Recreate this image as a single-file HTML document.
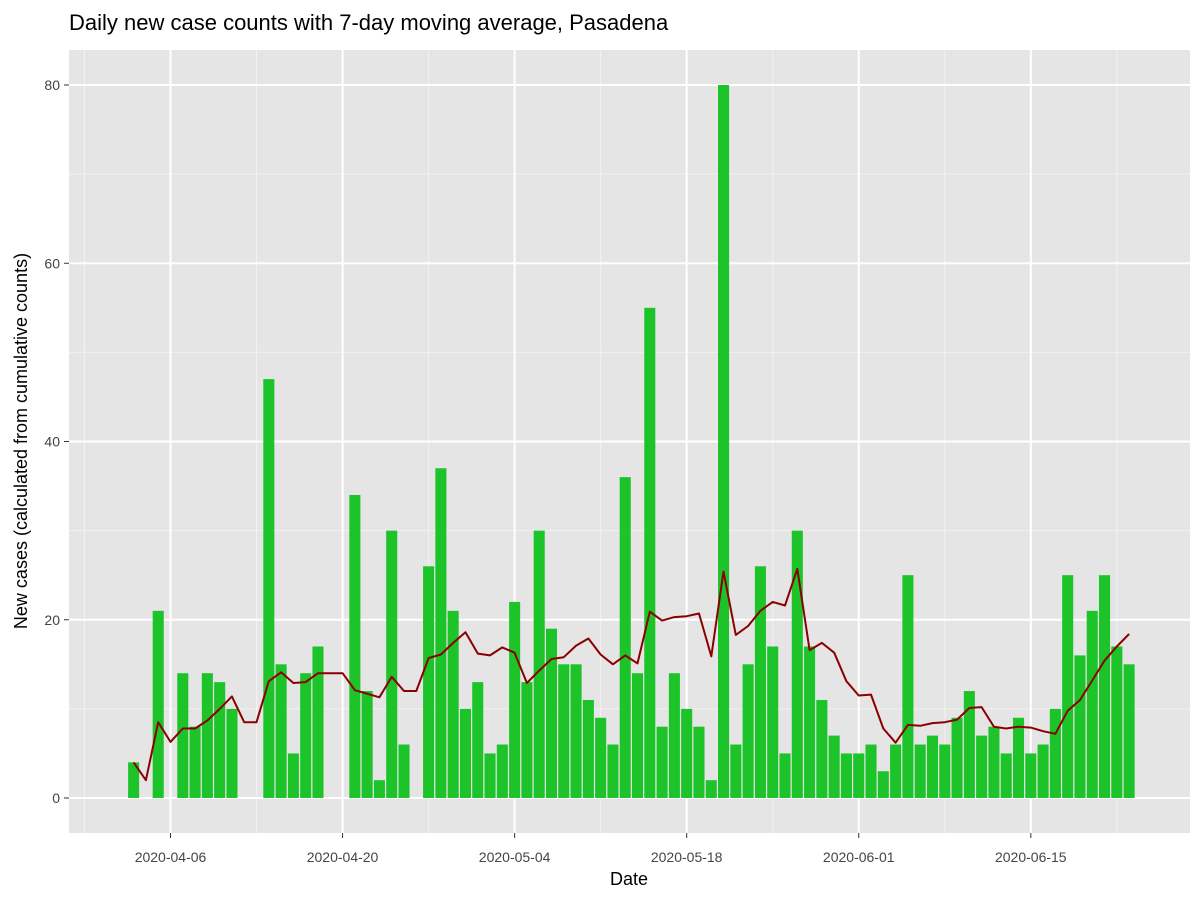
<!DOCTYPE html>
<html><head><meta charset="utf-8"><style>
body{margin:0;background:#fff;}
svg{display:block;font-family:"Liberation Sans",Arial,sans-serif;}
</style></head><body>
<svg id="chart" width="1200" height="900" xmlns="http://www.w3.org/2000/svg">
<rect x="0" y="0" width="1200" height="900" fill="#fff"/>
<text x="69" y="30" font-size="22" fill="#000">Daily new case counts with 7-day moving average, Pasadena</text>
<rect x="69" y="50" width="1121" height="783" fill="#e5e5e5"/>
<g id="grid"></g>
<g id="bars"></g>
<g id="line"></g>
<g id="axes"></g>
<text x="629" y="885" font-size="18" text-anchor="middle" fill="#000">Date</text>
<text transform="translate(27,441) rotate(-90)" font-size="18" text-anchor="middle" fill="#000">New cases (calculated from cumulative counts)</text>
</svg>
<script>
const startDate = "2020-04-03";
const newCases = [4,0,21,0,14,8,14,13,10,0,0,47,15,5,14,17,0,0,34,12,2,30,6,0,26,37,21,10,13,5,6,22,13,30,19,15,15,11,9,6,36,14,55,8,14,10,8,2,80,6,15,26,17,5,30,17,11,7,5,5,6,3,6,25,6,7,6,9,12,7,8,5,9,5,6,10,25,16,21,25,17,15];
const movingAvg = [4,2,8.5,6.3,7.8,7.8,8.7,10,11.4,8.5,8.5,13.1,14.1,12.9,13,14,14,14,12.1,11.7,11.3,13.6,12,12,15.7,16.1,17.4,18.6,16.2,16,16.9,16.3,12.9,14.3,15.6,15.8,17.1,17.9,16.1,15,16,15.1,20.9,19.9,20.3,20.4,20.7,15.9,25.4,18.3,19.3,21,22,21.6,25.7,16.6,17.4,16.3,13.1,11.5,11.6,7.8,6.2,8.2,8.1,8.4,8.5,8.8,10.1,10.2,8,7.8,8,7.9,7.5,7.2,9.8,11,13.2,15.4,17,18.4];
const yTicks = [0,20,40,60,80];
const xTickLabels = ["2020-04-06","2020-04-20","2020-05-04","2020-05-18","2020-06-01","2020-06-15"];

const NS="http://www.w3.org/2000/svg";
const dayMs=86400000;
const ref=Date.parse("2020-04-06T00:00:00Z");
const startOff=(Date.parse(startDate+"T00:00:00Z")-ref)/dayMs;
function xScale(d){return 170.5+d*12.29;}
function yScale(v){return 798-v*8.9125;}
function mk(tag,attrs,parent){const e=document.createElementNS(NS,tag);for(const k in attrs)e.setAttribute(k,attrs[k]);parent.appendChild(e);return e;}
const grid=document.getElementById('grid'),bars=document.getElementById('bars'),line=document.getElementById('line'),axes=document.getElementById('axes');
for(let i=0;i<yTicks.length-1;i++){const v=(yTicks[i]+yTicks[i+1])/2;
 const l=mk('line',{x1:69,x2:1190,y1:yScale(v),y2:yScale(v),stroke:'#f2f2f2','stroke-width':1},grid);
 
 }
for(let d=-7;d<=77;d+=14){
 const l=mk('line',{x1:xScale(d),x2:xScale(d),y1:50,y2:833,stroke:'#f2f2f2','stroke-width':1},grid);
 
 }
yTicks.forEach(v=>{const y=yScale(v);
 const l=mk('line',{x1:69,x2:1190,y1:y,y2:y,stroke:'#fff','stroke-width':2},grid);
 
 
 const t=mk('line',{x1:64,x2:69,y1:y,y2:y,stroke:'#333','stroke-width':1},axes);
 
 
 const tx=mk('text',{x:60,y:y+5,'font-size':14,'text-anchor':'end',fill:'#444'},axes);tx.textContent=v;
 
 });
xTickLabels.forEach(s=>{const d=(Date.parse(s+"T00:00:00Z")-ref)/dayMs;const x=xScale(d);
 const l=mk('line',{x1:x,x2:x,y1:50,y2:833,stroke:'#fff','stroke-width':2},grid);
 
 
 const t=mk('line',{x1:x,x2:x,y1:833,y2:838,stroke:'#333','stroke-width':1},axes);
 
 
 const tx=mk('text',{x:x,y:862,'font-size':14,'text-anchor':'middle',fill:'#444'},axes);tx.textContent=s;
 
 });
const bw=0.9*12.29;
newCases.forEach((v,i)=>{const x=xScale(startOff+i);
 const r=mk('rect',{x:x-bw/2,y:yScale(v),width:bw,height:yScale(0)-yScale(v),fill:'#1cc42a'},bars);
 
 });
const pts=movingAvg.map((v,i)=>xScale(startOff+i).toFixed(1)+','+yScale(v).toFixed(1)).join(' ');
const pl=mk('polyline',{points:pts,fill:'none',stroke:'#8b0000','stroke-width':2,'stroke-linejoin':'round'},line);


</script>
</body></html>
